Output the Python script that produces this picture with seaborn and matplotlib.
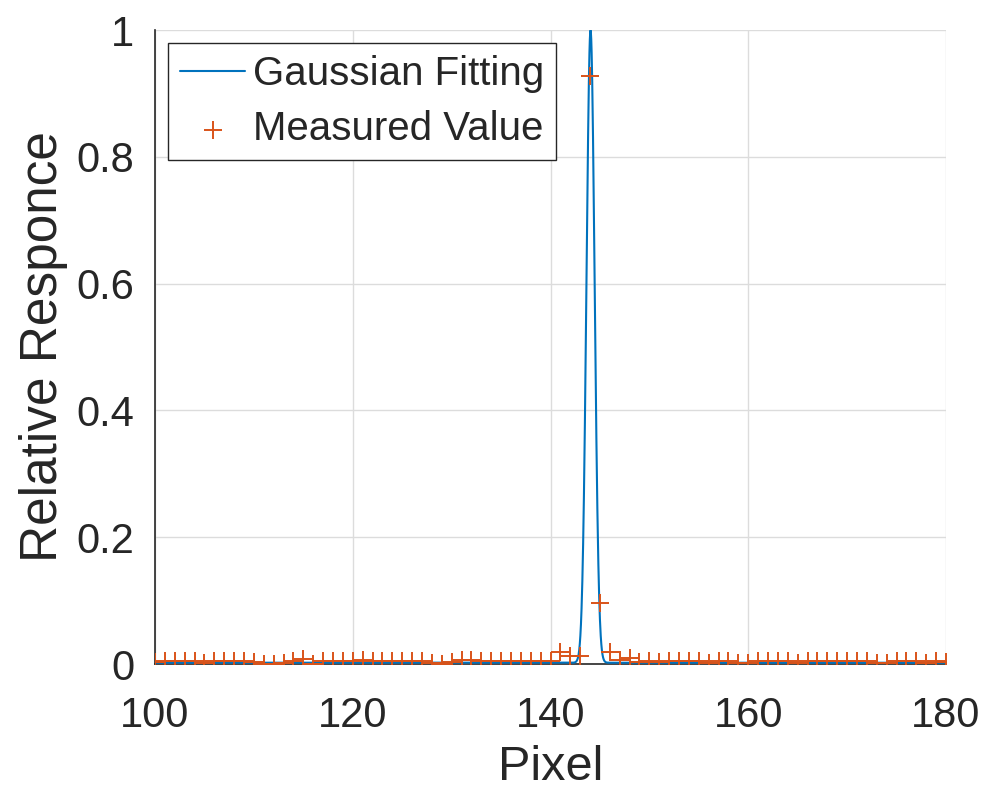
import numpy as np
import pandas as pd
import matplotlib
matplotlib.use("Agg")
import matplotlib.pyplot as plt
import seaborn as sns

# Measured relative response per detector pixel
pixels = list(range(100, 181))
measured = [
    0.003, 0.004, 0.004, 0.004, 0.004, 0.001, 0.004, 0.004, 0.004, 0.004,  # 100-109
    0.003, 0.000, 0.000, 0.002, 0.004, 0.008, 0.000, 0.004, 0.004, 0.004,  # 110-119
    0.004, 0.006, 0.004, 0.004, 0.004, 0.004, 0.004, 0.004, 0.001, 0.000,  # 120-129
    0.003, 0.007, 0.007, 0.004, 0.004, 0.004, 0.004, 0.004, 0.004, 0.004,  # 130-139
    0.005, 0.019, 0.012, 0.012, 0.927, 0.096, 0.019, 0.006, 0.009, 0.003,  # 140-149
    0.005, 0.003, 0.004, 0.004, 0.004, 0.004, 0.001, 0.004, 0.004, 0.001,  # 150-159
    0.001, 0.004, 0.004, 0.004, 0.004, 0.001, 0.004, 0.004, 0.004, 0.004,  # 160-169
    0.004, 0.004, 0.004, 0.001, 0.001, 0.004, 0.004, 0.004, 0.001, 0.004,  # 170-179
    0.003,                                                                 # 180
]

# Gaussian fit parameters
fit_amplitude = 1.0
fit_center = 144.05
fit_sigma = 0.41
fit_offset = 0.002

x_fit = np.linspace(100, 180, 4001)
y_fit = fit_offset + (fit_amplitude - fit_offset) * np.exp(-(x_fit - fit_center) ** 2 / (2 * fit_sigma ** 2))

df_meas = pd.DataFrame({"Pixel": pixels, "Response": measured})
df_fit = pd.DataFrame({"Pixel": x_fit, "Response": y_fit})

sns.set_theme(style="white")
plt.rcParams["font.family"] = ["Liberation Sans", "DejaVu Sans"]

BLUE = "#0072BD"
ORANGE = "#D95319"
AXC = "#262626"

fig = plt.figure(figsize=(9.91, 7.92), dpi=100)
ax = fig.add_axes([155 / 991, 1 - 664 / 792, (946 - 155) / 991, (664 - 30) / 792])

sns.lineplot(data=df_fit, x="Pixel", y="Response", ax=ax, color=BLUE, lw=1.5,
             label="Gaussian Fitting", zorder=3)
sns.scatterplot(data=df_meas, x="Pixel", y="Response", ax=ax, color=ORANGE,
                marker="+", s=150, linewidth=1.4, label="Measured Value", zorder=4)

ax.set_xlim(100, 180)
ax.set_ylim(0, 1)
ax.set_xticks([100, 120, 140, 160, 180])
ax.set_yticks([0, 0.2, 0.4, 0.6, 0.8, 1])
ax.set_yticklabels(["0", "0.2", "0.4", "0.6", "0.8", "1"])
ax.grid(True, color="#dcdcdc", lw=1.0)
ax.set_axisbelow(True)

for side in ("top", "right"):
    ax.spines[side].set_visible(False)
for side in ("left", "bottom"):
    ax.spines[side].set_color(AXC)
    ax.spines[side].set_linewidth(1.2)

ax.tick_params(axis="both", direction="in", length=5, width=1.0, colors=AXC,
               labelsize=30, labelcolor=AXC)
ax.tick_params(axis="x", pad=23)
ax.tick_params(axis="y", pad=15)
ax.set_xlabel("Pixel", fontsize=35, color=AXC)
ax.set_ylabel("Relative Responce", fontsize=37, color=AXC)
ax.xaxis.set_label_coords(0.5, -0.128)
ax.yaxis.set_label_coords(-0.11, 0.5)

leg = ax.legend(loc="upper left", fontsize=29, frameon=True, fancybox=False,
                edgecolor=AXC, framealpha=1, handlelength=1.6, handletextpad=0.2,
                labelspacing=0.42, borderaxespad=0.33, borderpad=0.3)
leg.get_frame().set_linewidth(1.0)

fig.savefig("out.png", dpi=100)
